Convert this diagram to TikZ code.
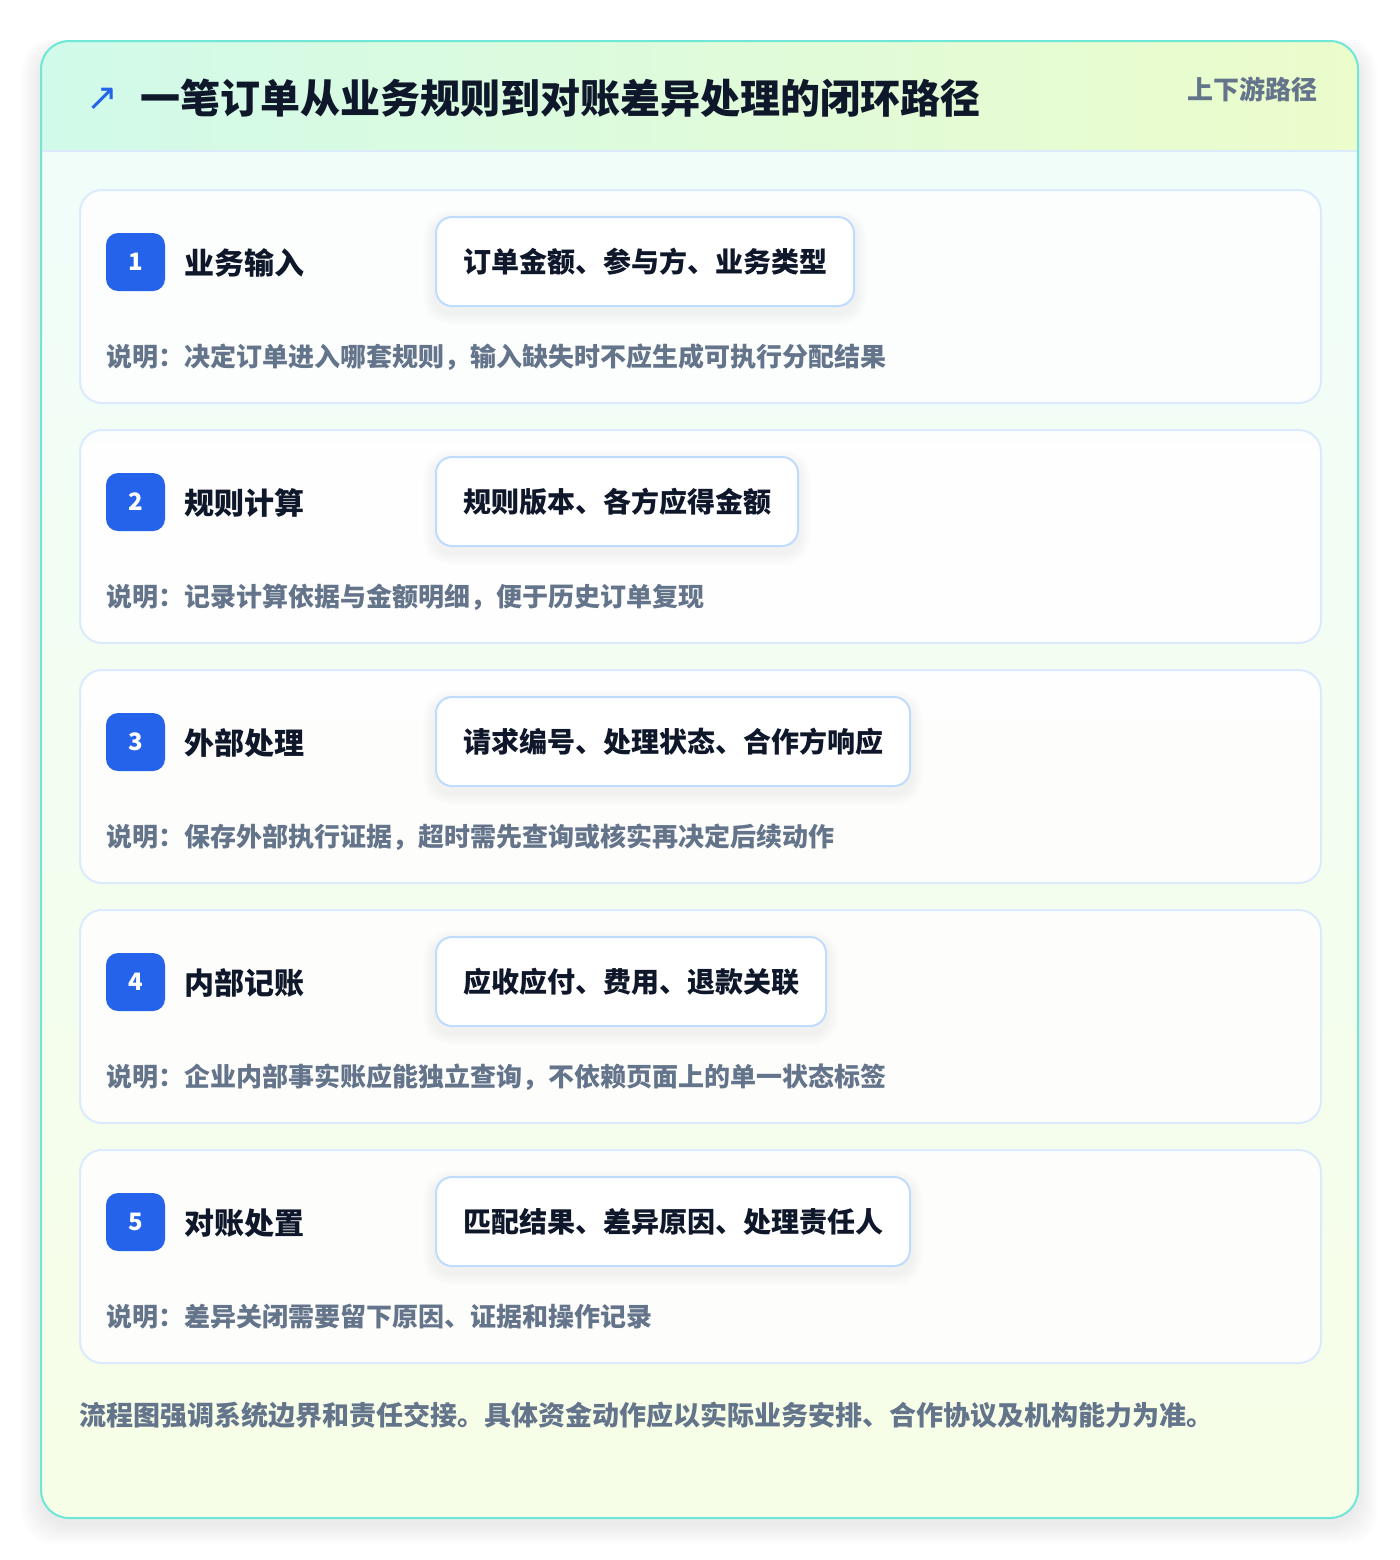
\documentclass[tikz,border=0pt]{standalone}
\usepackage{fontspec}
\setmainfont{Noto Sans CJK SC}
\newfontfamily\symfont{DejaVu Sans}
\definecolor{ink}{HTML}{0F172A}
\definecolor{muted}{HTML}{64748B}
\definecolor{badgeblue}{HTML}{2563EB}
\definecolor{tealline}{HTML}{6EE7D7}
\definecolor{cardline}{HTML}{DBEAFE}
\definecolor{chipline}{HTML}{BFDBFE}
\definecolor{hdrL}{HTML}{D1FAEA}
\definecolor{hdrR}{HTML}{ECFCCB}
\definecolor{bodyT}{HTML}{F0FDF9}
\definecolor{bodyB}{HTML}{F7FEE7}
\tikzset{
  cardbox/.style={draw=cardline, line width=1pt, fill=white, fill opacity=0.85, rounded corners=11pt,
    minimum width=620.5pt, minimum height=106.5pt, anchor=north west, inner sep=0pt},
  badge/.style={fill=badgeblue, rounded corners=6pt, minimum width=29.5pt, minimum height=29pt,
    inner sep=0pt, text=white, font=\bfseries\fontsize{12}{14}\selectfont},
  steplabel/.style={anchor=west, inner sep=0pt, text=ink, font=\bfseries\fontsize{15}{18}\selectfont},
  chipshape/.style={anchor=west, line width=1pt, rounded corners=8pt,
    inner xsep=13.5pt, inner ysep=0pt, minimum height=44.5pt,
    font=\bfseries\fontsize{14}{16}\selectfont},
  chipbox/.style={chipshape, draw=chipline, fill=white, text=ink},
  chipghost/.style={chipshape, draw=none, fill=none, text opacity=0},
  desctext/.style={anchor=west, inner sep=0pt, text=muted, font=\bfseries\fontsize{13}{16}\selectfont},
}
\begin{document}
\begin{tikzpicture}[x=0.5pt,y=-0.5pt]
\useasboundingbox (0,0) rectangle (1400,1560);
\fill[white] (0,0) rectangle (1400,1560);
% soft shadow of the outer card
\foreach \k in {1,...,10} {
  \fill[black, opacity=0.008, rounded corners=16pt]
    (41-2*\k,41+8-1*\k) rectangle (1358+2*\k,1518+6+2*\k);
}
% outer card fills
\begin{scope}
  \clip[rounded corners=14pt] (41,41) rectangle (1358,1518);
  \shade[left color=hdrL, right color=hdrR] (41,41) rectangle (1358,151);
  \shade[top color=bodyT, bottom color=bodyB] (41,151) rectangle (1358,1518);
  \draw[cardline, line width=1pt] (41,151) -- (1358,151);
\end{scope}
\draw[tealline, line width=1pt, rounded corners=14pt] (41,41) rectangle (1358,1518);
% header
\node[anchor=center, inner sep=0pt, text=badgeblue, font=\symfont\fontsize{19}{22}\selectfont] (icon) at (102,99) {↗};
\node[anchor=west, inner sep=0pt, text=ink, font=\bfseries\fontsize{20}{24}\selectfont] (title) at (140,98) {一笔订单从业务规则到对账差异处理的闭环路径};
\node[anchor=east, inner sep=0pt, text=muted, font=\bfseries\fontsize{13}{16}\selectfont] (tag) at (1318,89) {上下游路径};
% steps
\foreach \i/\lab/\chip/\desc in {
  1/业务输入/订单金额、参与方、业务类型/说明：决定订单进入哪套规则，输入缺失时不应生成可执行分配结果,
  2/规则计算/规则版本、各方应得金额/说明：记录计算依据与金额明细，便于历史订单复现,
  3/外部处理/请求编号、处理状态、合作方响应/说明：保存外部执行证据，超时需先查询或核实再决定后续动作,
  4/内部记账/应收应付、费用、退款关联/说明：企业内部事实账应能独立查询，不依赖页面上的单一状态标签,
  5/对账处置/匹配结果、差异原因、处理责任人/说明：差异关闭需要留下原因、证据和操作记录} {
  \pgfmathsetmacro\t{189+240*(\i-1)}
  \node[cardbox] (card\i) at (79,\t) {};
  \node[badge] (badge\i) at (135.5,\t+73) {\i};
  \node[steplabel] (label\i) at (184,\t+74) {\lab};
  \node[chipghost] (ghost\i) at (435,\t+72.5) {\chip};
  \foreach \k in {1,...,6} {
    \fill[black, opacity=0.007, rounded corners=8pt+\k pt]
      ([xshift=-\k pt, yshift=-3pt-\k pt]ghost\i.south west) rectangle
      ([xshift=\k pt, yshift=-3pt+\k pt]ghost\i.north east);
  }
  \node[chipbox] (chip\i) at (435,\t+72.5) {\chip};
  \node[desctext] (desc\i) at (106,\t+168) {\desc};
}
% footer note
\node[anchor=west, inner sep=0pt, text=muted, font=\bfseries\fontsize{13.5}{16}\selectfont] (note) at (79,1415) {流程图强调系统边界和责任交接。具体资金动作应以实际业务安排、合作协议及机构能力为准。};
\end{tikzpicture}
\end{document}
